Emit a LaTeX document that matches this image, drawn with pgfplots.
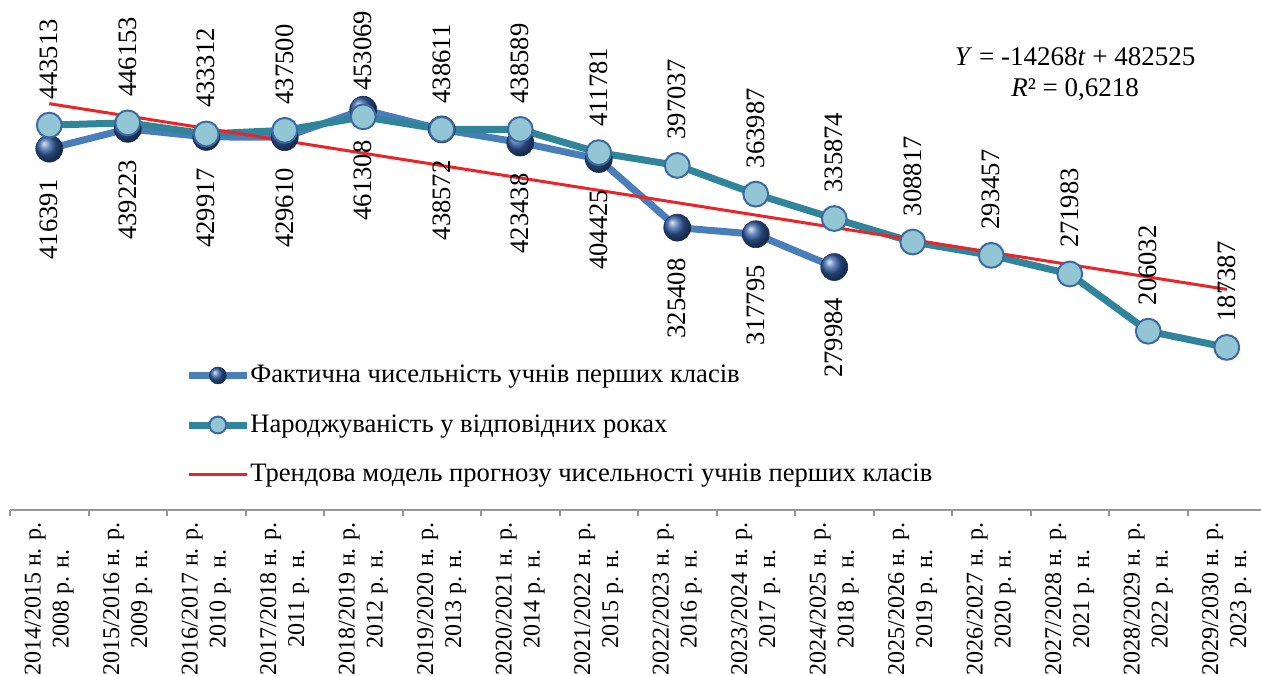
\documentclass[border=0pt]{standalone}
\usepackage{fontspec}
\setmainfont{Liberation Serif}
\usepackage{pgfplots}
\pgfplotsset{compat=1.18}
\definecolor{actline}{RGB}{74,126,187}
\definecolor{actball}{RGB}{50,95,165}
\definecolor{birthline}{RGB}{49,133,155}
\definecolor{birthfill}{RGB}{147,198,213}
\definecolor{birthedge}{RGB}{60,105,160}
\definecolor{trend}{RGB}{232,38,42}
\definecolor{axgray}{RGB}{150,150,150}
\pgfkeys{/pgf/number format/.cd,fixed,precision=0,1000 sep={},assume math mode=true}
\begin{document}
\begin{tikzpicture}
\begin{axis}[
  scale only axis, width=628pt, height=255pt,
  xmin=0.5, xmax=16.5, ymin=0, ymax=587700,
  enlargelimits=false, clip=false,
  axis y line=none, axis x line*=bottom,
  x axis line style={axgray, line width=1pt},
  xtick={1,...,16}, major tick length=0pt,
  minor xtick={0.5,1.5,...,16.5}, minor tick length=3pt, tick align=outside,
  minor tick style={axgray, line width=1pt},
  xticklabels={
    {2014/2015 н. р.\\2008 р. н.},
    {2015/2016 н. р.\\2009 р. н.},
    {2016/2017 н. р.\\2010 р. н.},
    {2017/2018 н. р.\\2011 р. н.},
    {2018/2019 н. р.\\2012 р. н.},
    {2019/2020 н. р.\\2013 р. н.},
    {2020/2021 н. р.\\2014 р. н.},
    {2021/2022 н. р.\\2015 р. н.},
    {2022/2023 н. р.\\2016 р. н.},
    {2023/2024 н. р.\\2017 р. н.},
    {2024/2025 н. р.\\2018 р. н.},
    {2025/2026 н. р.\\2019 р. н.},
    {2026/2027 н. р.\\2020 р. н.},
    {2027/2028 н. р.\\2021 р. н.},
    {2028/2029 н. р.\\2022 р. н.},
    {2029/2030 н. р.\\2023 р. н.}},
  xticklabel style={rotate=90, anchor=east, align=center, inner sep=0pt, outer xsep=6pt, font=\fontsize{12}{14}\selectfont},
  legend style={at={(0.1393,0.290)}, anchor=north west, draw=none, fill=none, inner sep=0pt,
    row sep=11.75pt, column sep=0pt, font=\fontsize{13.3}{16}\selectfont,
    nodes={inner sep=0pt, text height=10pt, text depth=3pt}},
  legend cell align=left,
  legend image code/.code={\draw[mark repeat=2,mark phase=2,#1] plot coordinates {(0pt,0pt) (14.5pt,0pt) (29pt,0pt)};},
  legend image post style={mark size=4.2pt},
]
\coordinate (O) at (rel axis cs:0,0);
\addplot[actline, line width=3.5pt, mark=ball, mark size=6.75pt,
  mark options={ball color=actball, line width=0.3pt, draw=actball!50!black},
  nodes near coords,
  every node near coord/.append style={rotate=90, anchor=east, inner sep=0pt, outer xsep=15.5pt, text=black, font=\fontsize{13.3}{16}\selectfont}]
  coordinates {(1,416391) (2,439223) (3,429917) (4,429610) (5,461308) (6,438572) (7,423438) (8,404425) (9,325408) (10,317795) (11,279984)};
\addlegendentry{Фактична чисельність учнів перших класів}
\addplot[birthline, line width=3.5pt, mark=*, mark size=6.2pt, mark options={fill=birthfill, draw=birthedge, line width=1pt},
  nodes near coords,
  every node near coord/.append style={rotate=90, anchor=west, inner sep=0pt, outer xsep=13pt, text=black, font=\fontsize{13.3}{16}\selectfont}]
  coordinates {(1,443513) (2,446153) (3,433312) (4,437500) (5,453069) (6,438611) (7,438589) (8,411781) (9,397037) (10,363987) (11,335874) (12,308817) (13,293457) (14,271983) (15,206032) (16,187387)};
\addlegendentry{Народжуваність у відповідних роках}
\addplot[trend, line width=1.5pt] coordinates {(1,468257) (16,254237)};
\addlegendentry{Трендова модель прогнозу чисельності учнів перших класів}
\node[align=center, font=\fontsize{13.5}{15.5}\selectfont] at (rel axis cs:0.848,0.855) {\textit{Y} = -14268\textit{t} + 482525\\\textit{R}² = 0,6218};
\end{axis}
\pgfresetboundingbox
\useasboundingbox ([shift={(-5pt,-82.5pt)}]O) rectangle ([shift={(625.5pt,255pt)}]O);
\end{tikzpicture}
\end{document}
